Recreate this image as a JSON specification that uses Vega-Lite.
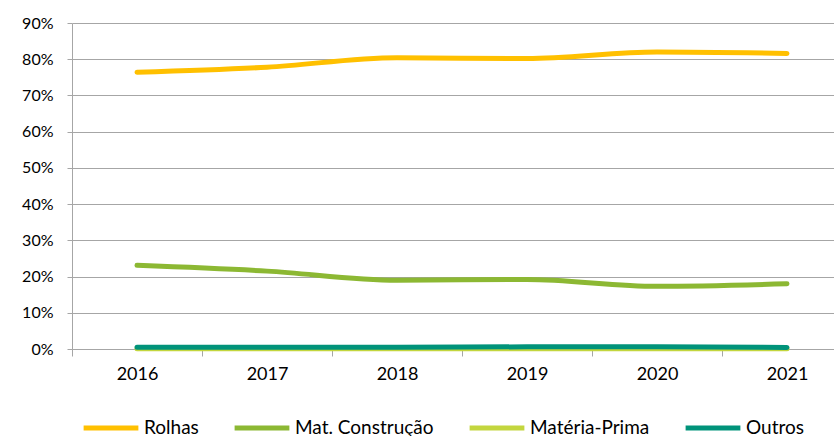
{
  "$schema": "https://vega.github.io/schema/vega-lite/v6.json",
  "autosize": {"type": "none"},
  "padding": {"left": 72, "top": 23, "right": 0, "bottom": 87},
  "width": 762,
  "height": 326,
  "background": "white",
  "config": {
    "font": "Lato",
    "view": {"stroke": null},
    "axis": {"labelFont": "Lato", "labelColor": "#000000", "titleFont": "Lato"},
    "legend": {"labelFont": "Lato", "labelFontSize": 19, "labelColor": "#000000"}
  },
  "data": {
    "values": [
      {"ano": "2016", "serie": "Rolhas", "valor": 0.764},
      {"ano": "2017", "serie": "Rolhas", "valor": 0.778},
      {"ano": "2018", "serie": "Rolhas", "valor": 0.804},
      {"ano": "2019", "serie": "Rolhas", "valor": 0.802},
      {"ano": "2020", "serie": "Rolhas", "valor": 0.820},
      {"ano": "2021", "serie": "Rolhas", "valor": 0.816},
      {"ano": "2016", "serie": "Mat. Construção", "valor": 0.231},
      {"ano": "2017", "serie": "Mat. Construção", "valor": 0.215},
      {"ano": "2018", "serie": "Mat. Construção", "valor": 0.190},
      {"ano": "2019", "serie": "Mat. Construção", "valor": 0.192},
      {"ano": "2020", "serie": "Mat. Construção", "valor": 0.173},
      {"ano": "2021", "serie": "Mat. Construção", "valor": 0.180},
      {"ano": "2016", "serie": "Matéria-Prima", "valor": 0.001},
      {"ano": "2017", "serie": "Matéria-Prima", "valor": 0.001},
      {"ano": "2018", "serie": "Matéria-Prima", "valor": 0.001},
      {"ano": "2019", "serie": "Matéria-Prima", "valor": 0.001},
      {"ano": "2020", "serie": "Matéria-Prima", "valor": 0.001},
      {"ano": "2021", "serie": "Matéria-Prima", "valor": 0.001},
      {"ano": "2016", "serie": "Outros", "valor": 0.005},
      {"ano": "2017", "serie": "Outros", "valor": 0.005},
      {"ano": "2018", "serie": "Outros", "valor": 0.005},
      {"ano": "2019", "serie": "Outros", "valor": 0.006},
      {"ano": "2020", "serie": "Outros", "valor": 0.006},
      {"ano": "2021", "serie": "Outros", "valor": 0.004}
    ]
  },
  "mark": {"type": "line", "strokeWidth": 5, "strokeCap": "round", "strokeJoin": "round", "interpolate": "monotone"},
  "encoding": {
    "x": {
      "field": "ano", "type": "ordinal", "bandPosition": 0.5,
      "scale": {"type": "band", "paddingInner": 0, "paddingOuter": 0, "range": [0, 780]},
      "axis": {
        "title": null, "labelAngle": 0, "grid": false, "tickBand": "extent",
        "domainColor": "#A6A6A6", "tickColor": "#A6A6A6", "tickSize": 7,
        "labelPadding": 9, "domainWidth": 1, "labelFontSize": 18
      }
    },
    "y": {
      "field": "valor", "type": "quantitative",
      "scale": {"domain": [0, 0.9], "nice": false},
      "axis": {
        "title": null, "format": ".0%", "values": [0, 0.1, 0.2, 0.3, 0.4, 0.5, 0.6, 0.7, 0.8, 0.9],
        "gridColor": "#A6A6A6", "gridWidth": 1, "domainColor": "#A6A6A6", "tickColor": "#A6A6A6",
        "tickSize": 5, "labelPadding": 14, "labelFontSize": 16
      }
    },
    "color": {
      "field": "serie", "type": "nominal",
      "scale": {
        "domain": ["Rolhas", "Mat. Construção", "Matéria-Prima", "Outros"],
        "range": ["#FFC000", "#8CB833", "#C3D63E", "#00937A"]
      },
      "legend": {
        "title": null, "orient": "none", "direction": "horizontal",
        "legendX": 9, "legendY": 375, "padding": 0,
        "symbolType": "stroke", "symbolSize": 3000, "symbolStrokeWidth": 5,
        "labelOffset": 3, "columnPadding": 25
      }
    },
    "order": {"field": "serie"}
  }
}
